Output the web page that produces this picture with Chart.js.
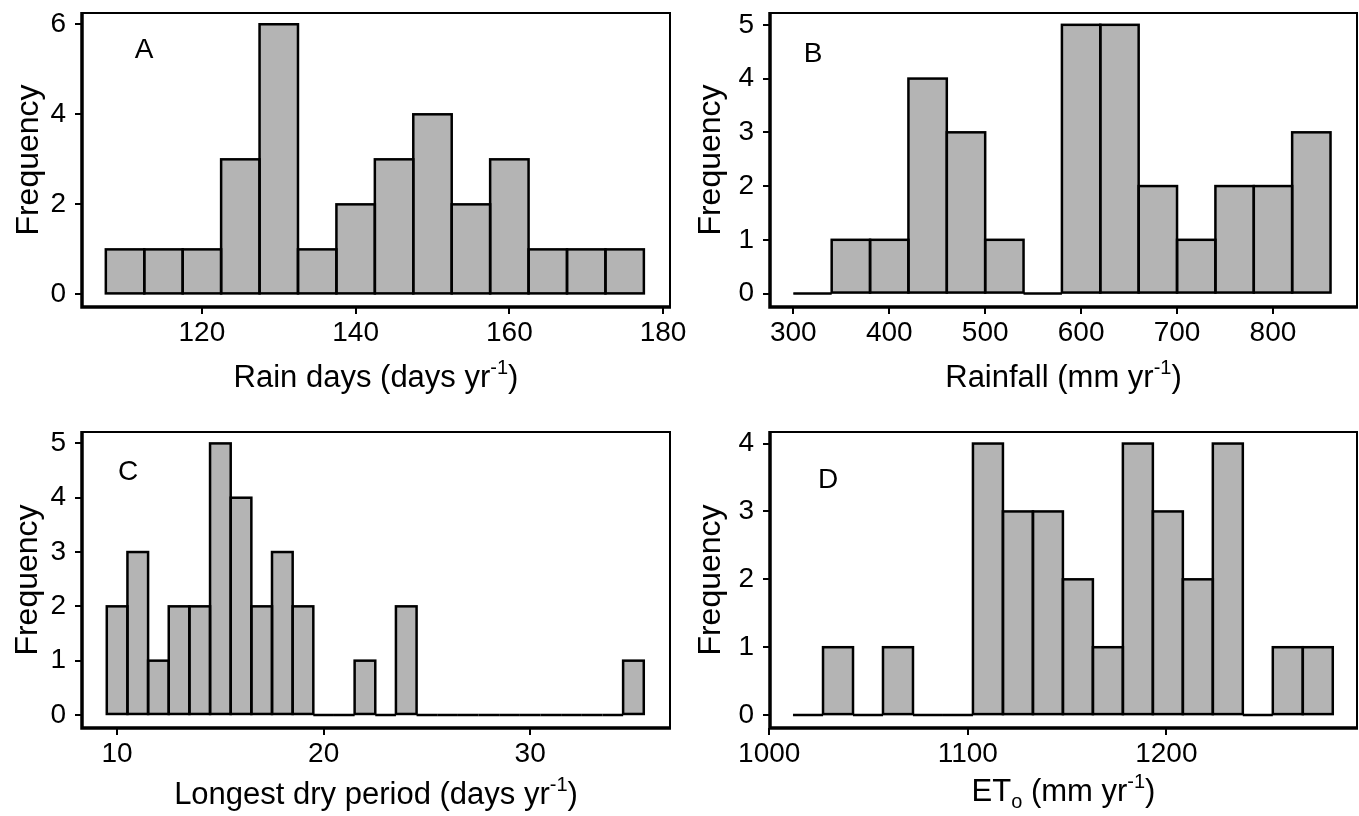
<!DOCTYPE html>
<html>
<head>
<meta charset="utf-8">
<title>Climate histograms</title>
<script src="https://cdn.jsdelivr.net/npm/chart.js@4.4.1/dist/chart.umd.min.js"></script>
<style>
  body { margin: 0; background: #fff; }
  #wrap { position: relative; width: 1359px; height: 816px; overflow: hidden; }
  canvas { position: absolute; }
</style>
</head>
<body>
<div id="wrap">
  <canvas id="panelB" width="679" height="408" style="left:680px;top:0"></canvas>
  <canvas id="panelD" width="679" height="408" style="left:680px;top:408px"></canvas>
  <canvas id="panelA" width="720" height="408" style="left:0;top:0"></canvas>
  <canvas id="panelC" width="720" height="408" style="left:0;top:408px"></canvas>
</div>
<script>
// bin edges and counts
const rainDaysEdges = [107.5, 112.5, 117.5, 122.5, 127.5, 132.5, 137.5, 142.5, 147.5, 152.5, 157.5, 162.5, 167.5, 172.5, 177.5];
const rainDaysCounts = [1, 1, 1, 3, 6, 1, 2, 3, 4, 2, 3, 1, 1, 1];
const rainDaysTicks = [120, 140, 160, 180];
const rainDaysFreqTicks = [0, 2, 4, 6];

const rainfallEdges = [300, 340, 380, 420, 460, 500, 540, 580, 620, 660, 700, 740, 780, 820, 860];
const rainfallCounts = [0, 1, 1, 4, 3, 1, 0, 5, 5, 2, 1, 2, 2, 3];
const rainfallTicks = [300, 400, 500, 600, 700, 800];
const rainfallFreqTicks = [0, 1, 2, 3, 4, 5];

const dryPeriodEdges = [9.5, 10.5, 11.5, 12.5, 13.5, 14.5, 15.5, 16.5, 17.5, 18.5, 19.5, 20.5, 21.5,
  22.5, 23.5, 24.5, 25.5, 26.5, 27.5, 28.5, 29.5, 30.5, 31.5, 32.5, 33.5, 34.5, 35.5];
const dryPeriodCounts = [2, 3, 1, 2, 2, 5, 4, 2, 3, 2, 0, 0, 1, 0, 2, 0, 0, 0, 0, 0, 0, 0, 0, 0, 0, 1];
const dryPeriodTicks = [10, 20, 30];
const dryPeriodFreqTicks = [0, 1, 2, 3, 4, 5];

const etoEdges = [1012, 1027.1, 1042.2, 1057.3, 1072.4, 1087.5, 1102.6, 1117.7, 1132.8, 1147.9,
  1163, 1178.1, 1193.2, 1208.3, 1223.4, 1238.5, 1253.6, 1268.7, 1283.8];
const etoCounts = [0, 1, 0, 1, 0, 0, 4, 3, 3, 2, 1, 4, 3, 2, 4, 0, 1, 1];
const etoTicks = [1000, 1100, 1200];
const etoFreqTicks = [0, 1, 2, 3, 4];

const FONT = '"Liberation Sans", Arial, Helvetica, sans-serif';

// bar outlines: one stroke per bin, zero bins give a flat line
const histOutline = {
  id: 'histOutline',
  afterDatasetsDraw(chart) {
    const ctx = chart.ctx;
    const meta = chart.getDatasetMeta(0);
    ctx.save();
    ctx.strokeStyle = '#000';
    ctx.lineWidth = 2.5;
    meta.data.forEach(bar => {
      const p = bar.getProps(['x', 'y', 'base', 'width'], true);
      const top = Math.min(p.y, p.base);
      ctx.strokeRect(p.x - p.width / 2, top, p.width, Math.abs(p.base - p.y));
    });
    ctx.restore();
  }
};

// box around the plot, panel letter and axis titles
function makeFrame(opts) {
  return {
    id: 'frame',
    afterDraw(chart) {
      const ctx = chart.ctx;
      const a = chart.chartArea;
      ctx.save();
      ctx.strokeStyle = '#000';
      ctx.lineWidth = 2;
      ctx.beginPath();
      ctx.moveTo(a.left, a.top);
      ctx.lineTo(a.right, a.top);
      ctx.lineTo(a.right, a.bottom);
      ctx.stroke();
      ctx.lineWidth = 3.5;
      ctx.beginPath();
      ctx.moveTo(a.left, a.top - 1);
      ctx.lineTo(a.left, a.bottom);
      ctx.lineTo(a.right + 1, a.bottom);
      ctx.stroke();

      ctx.fillStyle = '#000';
      ctx.textAlign = 'center';
      ctx.textBaseline = 'middle';
      ctx.font = '28px ' + FONT;
      ctx.fillText(opts.letter, opts.letterX, opts.letterY);

      ctx.save();
      ctx.font = '32px ' + FONT;
      ctx.translate(opts.freqX, (a.top + a.bottom) / 2);
      ctx.rotate(-Math.PI / 2);
      ctx.fillText('Frequency', 0, 0);
      ctx.restore();

      // x title with super/subscripts
      ctx.textAlign = 'left';
      ctx.textBaseline = 'alphabetic';
      const parts = opts.title.map(p => {
        const small = p.shift === 'sup' || p.shift === 'sub';
        const font = (small ? 20 : 31) + 'px ' + FONT;
        ctx.font = font;
        return { text: p.text, font: font, w: ctx.measureText(p.text).width,
          dy: p.shift === 'sup' ? -13 : p.shift === 'sub' ? 7 : 0 };
      });
      const total = parts.reduce((s, p) => s + p.w, 0);
      let x = (a.left + a.right) / 2 - total / 2;
      parts.forEach(p => {
        ctx.font = p.font;
        ctx.fillText(p.text, x, opts.titleY + p.dy);
        x += p.w;
      });
      ctx.restore();
    }
  };
}

function makeHistogram(id, edges, counts, xTicks, yTicks, layout) {
  const points = counts.map((c, i) => ({ x: (edges[i] + edges[i + 1]) / 2, y: c }));
  const tickGrid = { drawOnChartArea: false, drawTicks: true, tickLength: 7, color: '#000', lineWidth: 2 };
  const tickFont = { family: FONT, size: 28 };
  return new Chart(document.getElementById(id), {
    type: 'bar',
    data: {
      datasets: [{
        data: points,
        backgroundColor: '#b4b4b4',
        borderWidth: 0,
        barPercentage: 1,
        categoryPercentage: 1
      }]
    },
    options: {
      responsive: false,
      animation: false,
      devicePixelRatio: 1,
      layout: { padding: { top: layout.padTop, right: layout.padRight, left: 0, bottom: 0 } },
      plugins: {
        legend: { display: false },
        tooltip: { enabled: false }
      },
      scales: {
        x: {
          type: 'linear',
          offset: false,
          min: layout.xMin,
          max: layout.xMax,
          grid: Object.assign({ offset: false }, tickGrid),
          border: { display: false },
          ticks: { font: tickFont, color: '#000', padding: 2, autoSkip: false, maxRotation: 0,
            callback: v => String(v) },
          afterBuildTicks: s => { s.ticks = xTicks.map(v => ({ value: v })); },
          afterFit: s => { s.height = layout.xAxisHeight; s.paddingLeft = 0; s.paddingRight = 0; }
        },
        y: {
          type: 'linear',
          min: layout.yMin,
          max: layout.yMax,
          grid: tickGrid,
          border: { display: false },
          ticks: { font: tickFont, color: '#000', padding: 9, callback: v => String(v) },
          afterBuildTicks: s => { s.ticks = yTicks.map(v => ({ value: v })); },
          afterFit: s => { s.width = layout.yAxisWidth; s.paddingTop = 0; s.paddingBottom = 0; }
        }
      }
    },
    plugins: [histOutline, makeFrame(layout.frame)]
  });
}

makeHistogram('panelA', rainDaysEdges, rainDaysCounts, rainDaysTicks, rainDaysFreqTicks, {
  xMin: 104.4, xMax: 180.9, yMin: -0.28, yMax: 6.25,
  padTop: 13, padRight: 50, yAxisWidth: 82, xAxisHeight: 101,
  frame: { letter: 'A', letterX: 144, letterY: 50, freqX: 29, titleY: 387,
    title: [{ text: 'Rain days (days yr' }, { text: '-1', shift: 'sup' }, { text: ')' }] }
});

makeHistogram('panelB', rainfallEdges, rainfallCounts, rainfallTicks, rainfallFreqTicks, {
  xMin: 275.7, xMax: 887.6, yMin: -0.25, yMax: 5.22,
  padTop: 13, padRight: 2, yAxisWidth: 90, xAxisHeight: 101,
  frame: { letter: 'B', letterX: 133, letterY: 54, freqX: 31, titleY: 387,
    title: [{ text: 'Rainfall (mm yr' }, { text: '-1', shift: 'sup' }, { text: ')' }] }
});

makeHistogram('panelC', dryPeriodEdges, dryPeriodCounts, dryPeriodTicks, dryPeriodFreqTicks, {
  xMin: 8.3, xMax: 36.77, yMin: -0.24, yMax: 5.21,
  padTop: 24, padRight: 50, yAxisWidth: 82, xAxisHeight: 88,
  frame: { letter: 'C', letterX: 128, letterY: 64, freqX: 28, titleY: 396,
    title: [{ text: 'Longest dry period (days yr' }, { text: '-1', shift: 'sup' }, { text: ')' }] }
});

makeHistogram('panelD', etoEdges, etoCounts, etoTicks, etoFreqTicks, {
  xMin: 1000.4, xMax: 1296, yMin: -0.19, yMax: 4.17,
  padTop: 24, padRight: 2, yAxisWidth: 90, xAxisHeight: 88,
  frame: { letter: 'D', letterX: 148, letterY: 72, freqX: 31, titleY: 393,
    title: [{ text: 'ET' }, { text: 'o', shift: 'sub' }, { text: ' (mm yr' }, { text: '-1', shift: 'sup' }, { text: ')' }] }
});
</script>
</body>
</html>
